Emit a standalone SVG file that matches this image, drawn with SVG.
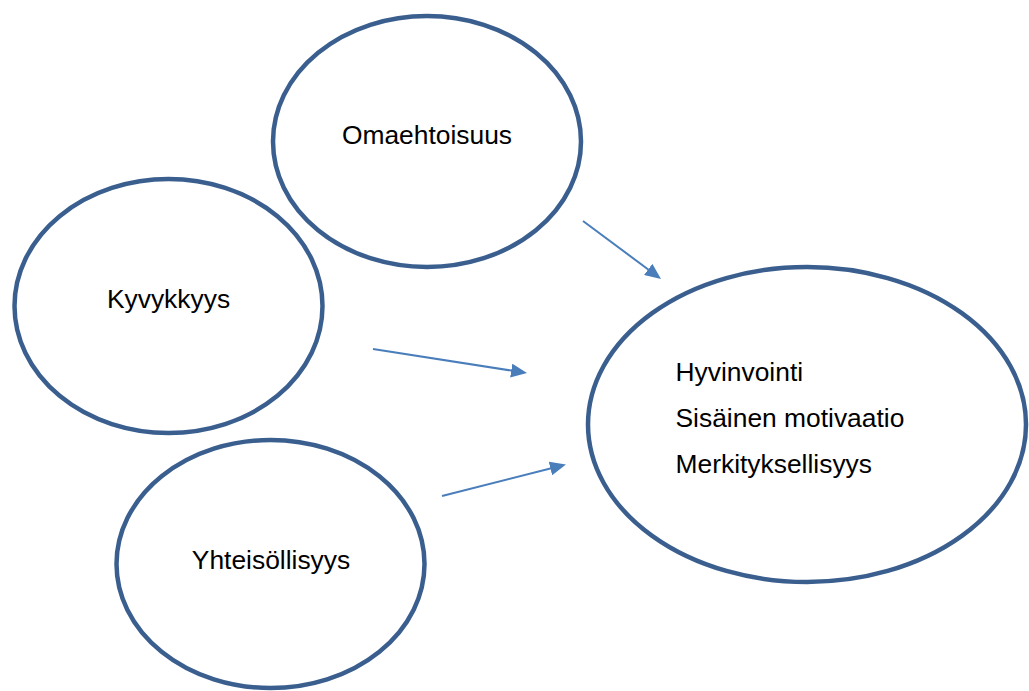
<svg xmlns="http://www.w3.org/2000/svg" width="1029" height="691" viewBox="0 0 1029 691">
  <style>
    .node { fill: #ffffff; stroke: #3A5F8F; stroke-width: 4.5; }
    .label { font-family: "Liberation Sans", Arial, sans-serif; font-size: 26.4px; fill: #000000; }
    .conn { stroke: #4A7EBB; stroke-width: 2; fill: none; }
  </style>
  <defs>
    <marker id="arrow" markerUnits="userSpaceOnUse" viewBox="0 0 16 14" markerWidth="16" markerHeight="14" refX="8" refY="7" orient="auto">
      <path d="M0,0 L16,7 L0,14 z" fill="#4A7EBB"/>
    </marker>
  </defs>
  <rect width="1029" height="691" fill="#ffffff"/>
  <g id="omaehtoisuus">
    <ellipse class="node" cx="427" cy="141.5" rx="154" ry="125.5"/>
    <text class="label" x="427" y="144" text-anchor="middle">Omaehtoisuus</text>
  </g>
  <g id="kyvykkyys">
    <ellipse class="node" cx="168.5" cy="306" rx="154" ry="127"/>
    <text class="label" x="168.5" y="308" text-anchor="middle">Kyvykkyys</text>
  </g>
  <g id="yhteisollisyys">
    <ellipse class="node" cx="270.5" cy="564" rx="154" ry="124"/>
    <text class="label" x="271" y="569" text-anchor="middle">Yhteisöllisyys</text>
  </g>
  <g id="hyvinvointi">
    <ellipse class="node" cx="807" cy="424.5" rx="219" ry="157.5"/>
    <text class="label" x="675.5" y="381">Hyvinvointi</text>
    <text class="label" x="675.5" y="427">Sisäinen motivaatio</text>
    <text class="label" x="675.5" y="473">Merkityksellisyys</text>
  </g>
  <g id="connectors">
    <line class="conn" x1="583" y1="221" x2="654.6" y2="274.2" marker-end="url(#arrow)"/>
    <line class="conn" x1="373" y1="349" x2="519.1" y2="371.8" marker-end="url(#arrow)"/>
    <line class="conn" x1="442" y1="496" x2="558.2" y2="466.5" marker-end="url(#arrow)"/>
  </g>
</svg>
